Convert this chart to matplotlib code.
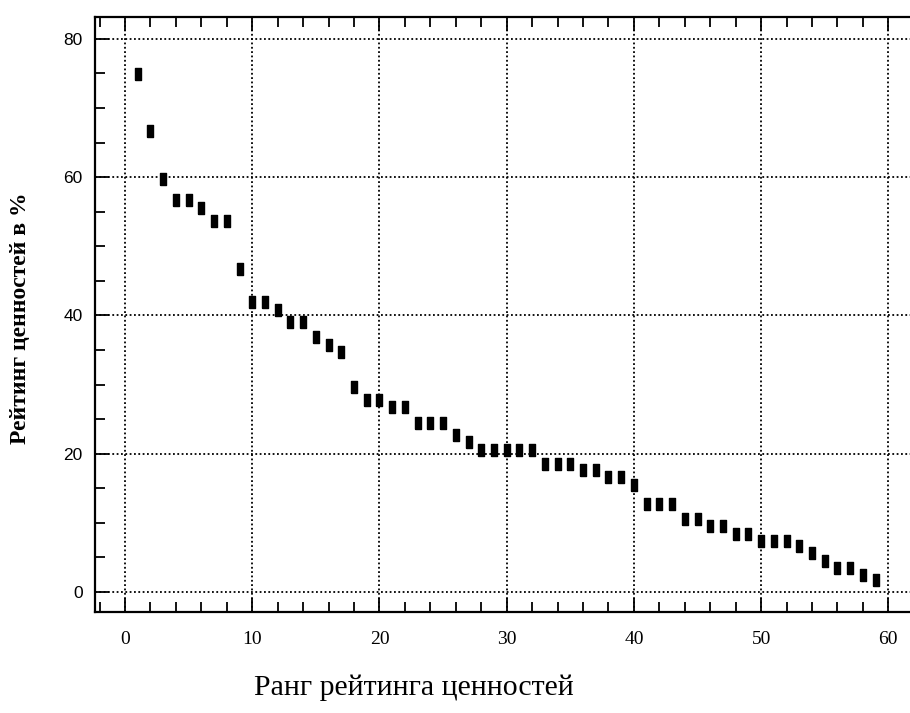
import numpy as np
import matplotlib
matplotlib.use('Agg')
import matplotlib.pyplot as plt
from matplotlib.ticker import MultipleLocator

# Data
ranks = list(range(1, 60))
rating = [74.9, 66.6, 59.8, 56.7, 56.7, 55.5, 53.7, 53.7, 46.7, 41.9,
          41.9, 40.8, 39.1, 39.1, 36.9, 35.7, 34.7, 29.6, 27.8, 27.7,
          26.7, 26.7, 24.5, 24.5, 24.5, 22.7, 21.7, 20.6, 20.6, 20.6,
          20.6, 20.6, 18.5, 18.5, 18.5, 17.6, 17.6, 16.6, 16.6, 15.5,
          12.7, 12.7, 12.7, 10.6, 10.6, 9.5, 9.5, 8.4, 8.4, 7.4,
          7.4, 7.4, 6.6, 5.6, 4.5, 3.5, 3.5, 2.5, 1.7]
x_ticks = [0, 10, 20, 30, 40, 50, 60]
y_ticks = [0, 20, 40, 60, 80]
x_label = 'Ранг рейтинга ценностей'
y_label = 'Рейтинг ценностей в %'

serif = ['Liberation Serif', 'DejaVu Serif']
sans = ['Liberation Sans', 'DejaVu Sans']

fig = plt.figure(figsize=(9.1, 7.13), dpi=100)
ax = fig.add_axes([0.1044, 0.142, 0.8956, 0.8346])

# tall rectangular marker
rect = [(-0.6, -1), (0.6, -1), (0.6, 1), (-0.6, 1), (-0.6, -1)]
ax.plot(ranks, rating, linestyle='none', marker=rect, markersize=8,
        color='black', zorder=3)

ax.set_xlim(-2.36, 61.7)
ax.set_ylim(-2.85, 83.2)
ax.set_xticks(x_ticks)
ax.set_yticks(y_ticks)
ax.xaxis.set_minor_locator(MultipleLocator(2))
ax.yaxis.set_minor_locator(MultipleLocator(5))

ax.grid(True, which='major', color='black', linestyle=(0, (1, 1.4)), linewidth=1.3)

ax.tick_params(which='both', direction='in', top=True, right=False,
               color='black', width=1.3)
ax.tick_params(which='major', length=10)
ax.tick_params(which='minor', length=7)
ax.tick_params(axis='x', pad=14)
ax.tick_params(axis='y', pad=9)

for lbl in ax.get_xticklabels():
    lbl.set_family(serif)
    lbl.set_fontsize(14)
for lbl in ax.get_yticklabels():
    lbl.set_family(sans)
    lbl.set_fontsize(12.5)

for side in ['left', 'bottom', 'top']:
    ax.spines[side].set_linewidth(1.6)
ax.spines['right'].set_visible(False)

fig.text(0.455, 0.035, x_label, ha='center', va='center',
         fontsize=21.5, family=serif)
fig.text(0.022, 0.554, y_label, ha='center', va='center', rotation=90,
         fontsize=17, fontweight='bold', family=serif)

fig.savefig('out.png', dpi=100)
